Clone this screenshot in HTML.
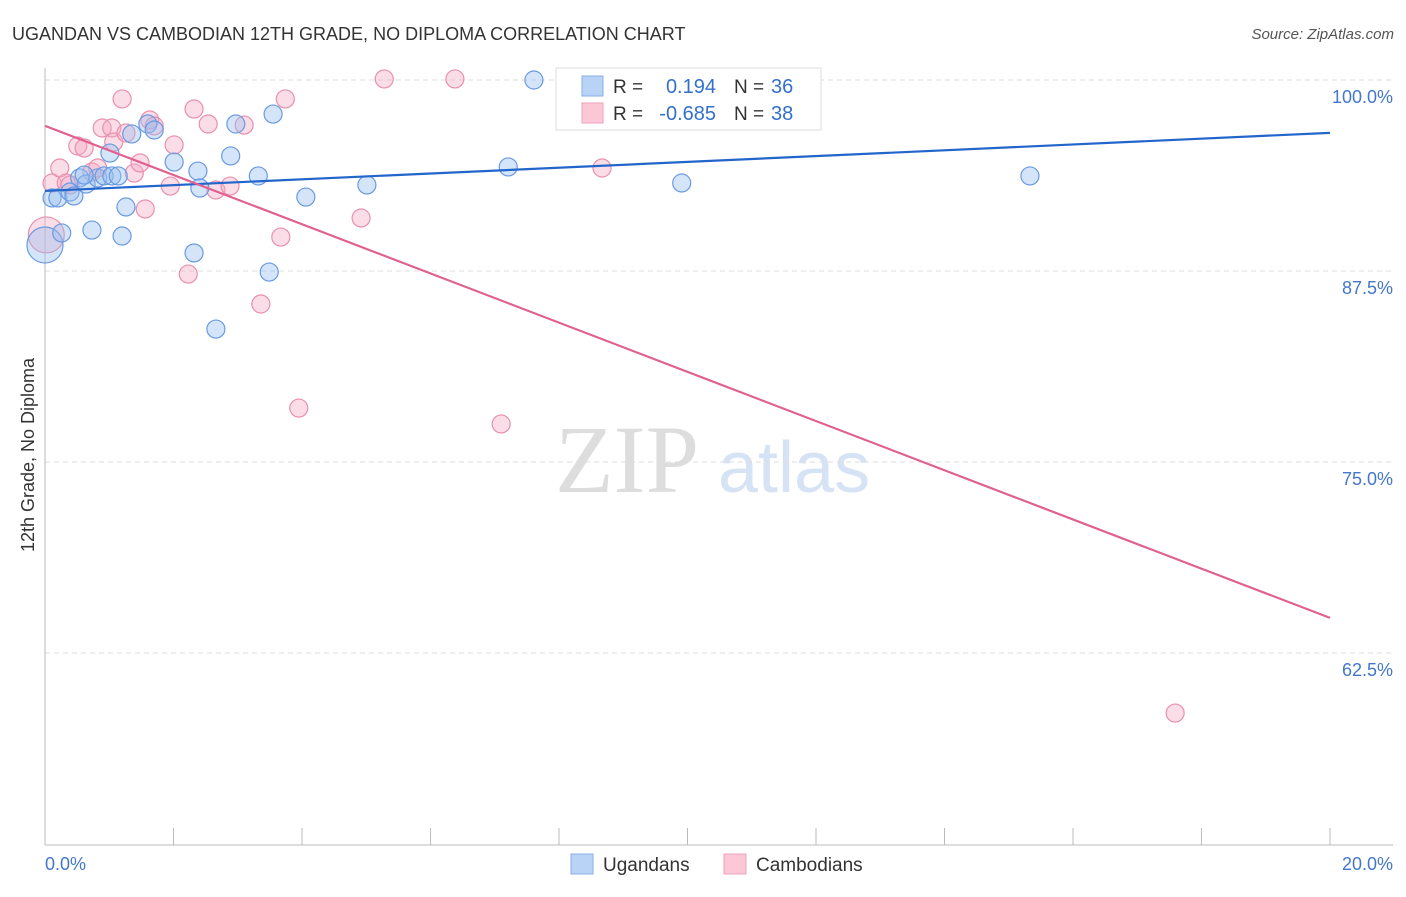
<!DOCTYPE html>
<html><head><meta charset="utf-8"><style>
body{margin:0;background:#fff;font-family:"Liberation Sans",sans-serif}
</style></head><body>
<svg id="c" width="1406" height="892" xmlns="http://www.w3.org/2000/svg" font-family="Liberation Sans, sans-serif"></svg>
<script>
const xTicks=[0,2,4,6,8,10,12,14,16,18,20];
const yTicks=[100,87.5,75,62.5];
const yTickLabels=["100.0%","87.5%","75.0%","62.5%"];
const blueX=[0.11,0.20,0.26,0.39,0.45,0.54,0.64,0.73,0.82,0.92,1.01,1.04,1.14,1.20,1.26,1.35,1.60,1.70,2.01,2.32,2.38,2.41,2.66,2.89,2.97,3.32,3.49,3.55,4.06,5.01,7.21,7.61,9.91,15.33,0.61];
const blueY=[92.28,92.28,89.99,92.67,92.41,93.59,93.19,90.18,93.59,93.72,95.22,93.72,93.72,89.79,91.69,96.47,97.12,96.73,94.63,88.68,94.04,92.93,83.70,95.03,97.12,93.72,87.43,97.77,92.34,93.13,94.31,100,93.26,93.72,93.78];
const pinkX=[0.11,0.23,0.33,0.39,0.51,0.61,0.73,0.82,0.89,1.04,1.07,1.20,1.26,1.39,1.48,1.56,1.63,1.70,1.95,2.01,2.23,2.32,2.54,2.66,2.88,3.10,3.36,3.67,3.74,3.95,4.92,5.28,6.38,7.10,8.67,17.59];
const pinkY=[93.26,94.24,93.26,93.13,95.68,95.55,93.98,94.24,96.86,96.86,95.94,98.76,96.53,93.91,94.57,91.56,97.38,96.99,93.06,95.75,87.30,98.10,97.12,92.80,93.06,97.05,85.34,89.72,98.76,78.53,90.97,100.07,100.07,77.49,94.24,58.57];
const bigBlue=[0,89.2], bigPink=[0.02,89.86];
const blueTrend=[92.74,96.54], pinkTrend=[97.0,64.8];
const X=v=>45+v/20*1285, Y=v=>80+(100-v)/12.5*191;
const s=document.getElementById('c'),NS="http://www.w3.org/2000/svg";
function el(t,a,txt){const e=document.createElementNS(NS,t);for(const k in a)e.setAttribute(k,a[k]);if(txt!=null)e.textContent=txt;s.appendChild(e);return e;}
let e;
e=el('text',{x:12,y:40,'font-size':18,fill:'#333'},'UGANDAN VS CAMBODIAN 12TH GRADE, NO DIPLOMA CORRELATION CHART');

e=el('text',{x:1394,y:39,'font-size':15,fill:'#555','font-style':'italic','text-anchor':'end'},'Source: ZipAtlas.com');

e=el('text',{x:555,y:492,'font-size':96,fill:'#ddd','font-family':'Liberation Serif, serif'},'ZIP');

e=el('text',{x:718,y:492,'font-size':72,fill:'#d5e3f5'},'atlas');

yTicks.forEach((v,i)=>{
 e=el('line',{x1:45,x2:1393,y1:Y(v),y2:Y(v),stroke:'#ddd','stroke-dasharray':'5,4'});
 
 e=el('text',{x:1393,y:Y(v)+23,'font-size':18,fill:'#4477cc','text-anchor':'end'},yTickLabels[i]);
 
});
e=el('line',{x1:45,x2:45,y1:68,y2:845,stroke:'#bbb'});
e=el('line',{x1:45,x2:1393,y1:845,y2:845,stroke:'#bbb'});
xTicks.forEach(v=>{e=el('line',{x1:X(v),x2:X(v),y1:828,y2:845,stroke:'#bbb'});});
e=el('text',{x:45,y:870,'font-size':18,fill:'#4477cc'},'0.0%');
e=el('text',{x:1393,y:870,'font-size':18,fill:'#4477cc','text-anchor':'end'},'20.0%');
e=el('text',{x:34,y:455,'font-size':18,fill:'#333','text-anchor':'middle',transform:'rotate(-90 34 455)'},'12th Grade, No Diploma');

function pt(x,y,r,f,st,n){e=el('circle',{cx:X(x),cy:Y(y),r:r,fill:f,stroke:st,'stroke-width':1.2});}
const bf='rgba(150,190,240,0.4)',bs='#6a9ae0',pf='rgba(245,170,195,0.4)',ps='#e890ad';
pt(bigPink[0],bigPink[1],18,pf,ps,'cambodian-point');
pt(bigBlue[0],bigBlue[1],18,bf,bs,'ugandan-point');
pinkX.forEach((x,i)=>pt(x,pinkY[i],9,pf,ps,'cambodian-point'));
blueX.forEach((x,i)=>pt(x,blueY[i],9,bf,bs,'ugandan-point'));
e=el('line',{x1:X(0),y1:Y(blueTrend[0]),x2:X(20),y2:Y(blueTrend[1]),stroke:'#2266cc','stroke-width':2.2});
e=el('line',{x1:X(0),y1:Y(pinkTrend[0]),x2:X(20),y2:Y(pinkTrend[1]),stroke:'#e06090','stroke-width':2.2});
e=el('rect',{x:556,y:68,width:265,height:62,fill:'#fff',stroke:'#ddd'});
e=el('rect',{x:582,y:76,width:21,height:20,fill:'#b8d3f5',stroke:'#88aee5'});
e=el('rect',{x:582,y:103,width:21,height:20,fill:'#fcc8d8',stroke:'#eea0b8'});
[[93,'0.194','36'],[120,'-0.685','38']].forEach(r=>{
 e=el('text',{x:613,y:r[0],'font-size':19,fill:'#333'},'R =');
 e=el('text',{x:716,y:r[0],'font-size':20,fill:'#3370cc','text-anchor':'end'},r[1]);
 e=el('text',{x:734,y:r[0],'font-size':19,fill:'#333'},'N =');
 e=el('text',{x:771,y:r[0],'font-size':20,fill:'#3370cc'},r[2]);
});
e=el('rect',{x:571,y:854,width:22,height:20,fill:'#b8d3f5',stroke:'#88aee5'});
e=el('text',{x:603,y:871,'font-size':19,fill:'#333'},'Ugandans');
e=el('rect',{x:724,y:854,width:22,height:20,fill:'#fcc8d8',stroke:'#eea0b8'});
e=el('text',{x:756,y:871,'font-size':19,fill:'#333'},'Cambodians');
</script>
</body></html>
